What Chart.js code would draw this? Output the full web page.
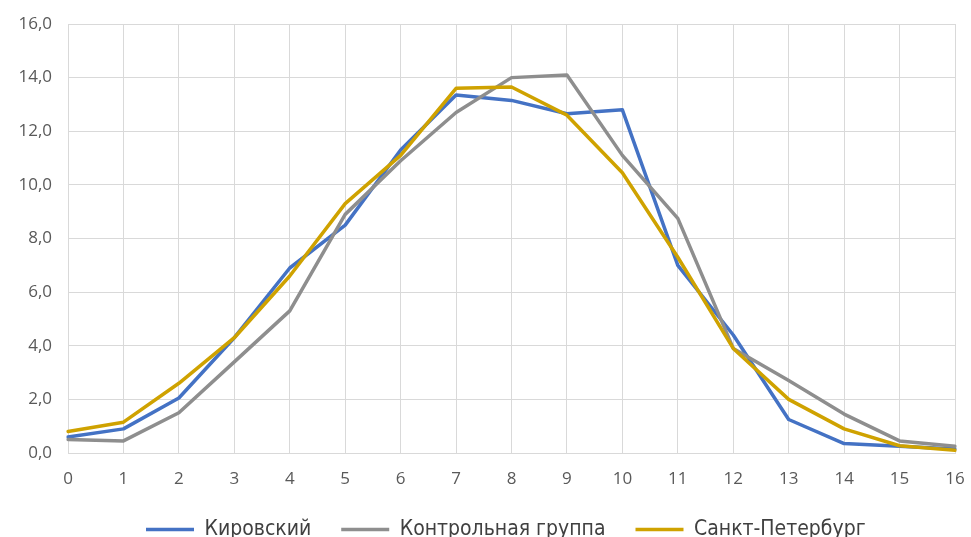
<!DOCTYPE html>
<html>
<head>
<meta charset="utf-8">
<script src="https://cdn.jsdelivr.net/npm/chart.js@4/dist/chart.umd.min.js"></script>
<style>
  html, body { margin: 0; padding: 0; background: #fff; overflow: hidden; }
  #wrap { width: 971px; height: 550px; }
</style>
</head>
<body>
<div id="wrap"><canvas id="chart" width="971" height="550"></canvas></div>
<script>
// оси
const etiquetas = ["0", "1", "2", "3", "4", "5", "6", "7", "8", "9", "10", "11", "12", "13", "14", "15", "16"]

// series
const kirovsky = [0.6, 0.9, 2.05, 4.3, 6.9, 8.5, 11.3, 13.35, 13.15, 12.65, 12.8, 7.0, 4.4, 1.25, 0.35, 0.25, 0.15]
const kontrol = [0.5, 0.45, 1.5, 3.4, 5.3, 8.9, 10.9, 12.7, 14.0, 14.1, 11.1, 8.75, 3.9, 2.7, 1.45, 0.45, 0.25]
const spb = [0.8, 1.15, 2.6, 4.3, 6.6, 9.3, 11.1, 13.6, 13.65, 12.6, 10.45, 7.3, 3.9, 2.0, 0.9, 0.27, 0.1]

const nombres = ["Кировский", "Контрольная группа", "Санкт-Петербург"]
const colores = ["#4472C4", "#8E8E8E", "#CFA200"]

function serie(i, valores, orden) {
    return {
        label: nombres[i],
        data: valores,
        borderColor: colores[i],
        backgroundColor: colores[i],
        borderWidth: 3.5,
        borderCapStyle: 'round',
        borderJoinStyle: 'round',
        pointRadius: 0,
        pointStyle: 'line',
        tension: 0,
        order: orden,
    }
}

// mover la leyenda para que empiece donde en el original
const moverLeyenda = {
    id: 'moverLeyenda',
    afterLayout(chart) {
        const l = chart.legend
        const inicio = (l.left + l.options.labels.padding + l.right - l.lineWidths[0]) / 2
        const dx = 146 - inicio
        l.left += dx
        l.right += dx
    },
}

const grafico = document.getElementById('chart').getContext('2d');
new Chart(grafico, {
    type: 'line',
    data: {
        labels: etiquetas,
        datasets: [serie(0, kirovsky, 3), serie(1, kontrol, 2), serie(2, spb, 1)],
    },
    plugins: [moverLeyenda],
    options: {
        responsive: false,
        animation: false,
        layout: { padding: { left: 0, right: 16, top: 24, bottom: 0 } },
        plugins: {
            tooltip: { enabled: false },
            legend: {
                position: 'bottom',
                labels: {
                    usePointStyle: true,
                    pointStyleWidth: 48,
                    boxHeight: 22,
                    padding: 30,
                    color: '#404040',
                    font: { family: "'DejaVu Sans Condensed', 'Liberation Sans', sans-serif", size: 21 },
                    sort: (a, b) => a.datasetIndex - b.datasetIndex,
                },
            },
        },
        scales: {
            x: {
                offset: false,
                afterFit: (s) => { s.height = 36; s.paddingRight = 0; s.paddingLeft = 0 },
                grid: { color: '#d9d9d9', drawTicks: false },
                border: { color: '#d9d9d9' },
                ticks: { color: '#595959', padding: 16, font: { family: 'Open Sans', size: 17 }, maxRotation: 0 },
            },
            y: {
                min: 0,
                max: 16,
                afterFit: (s) => { s.width = 68; s.paddingTop = 0; s.paddingBottom = 0 },
                grid: { color: '#d9d9d9', drawTicks: false },
                border: { display: false },
                ticks: {
                    stepSize: 2,
                    padding: 16,
                    color: '#595959',
                    font: { family: 'Open Sans', size: 17 },
                    callback: (v) => v.toFixed(1).replace('.', ','),
                },
            },
        },
    },
});
</script>
</body>
</html>
